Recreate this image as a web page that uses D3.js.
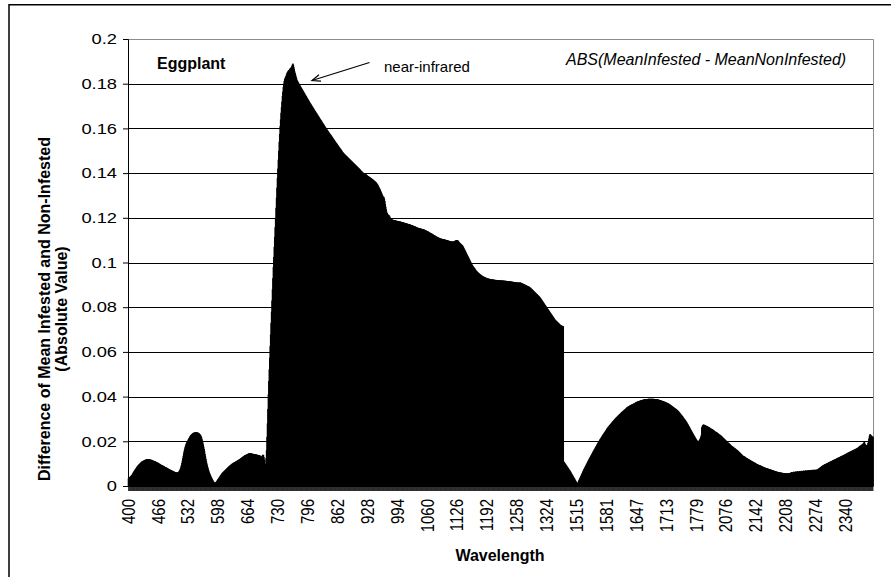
<!DOCTYPE html>
<html>
<head>
<meta charset="utf-8">
<script src="https://cdn.jsdelivr.net/npm/d3@7"></script>
<style>
  html, body { margin: 0; padding: 0; background: #fff; }
  svg { display: block; }
  text { font-family: "Liberation Sans", Arial, Helvetica, sans-serif; fill: #000; }
</style>
</head>
<body>
<svg id="chart" width="891" height="577"></svg>
<script>
// |mean infested - mean non-infested| reflectance, one value per nm.
// 400-1360 nm (visible + near-infrared)
const visNirStart = 400;
const visNirValues = [
.0034,.0036,.0038,.0040,.0042,.0044,.0046,.0048,.0050,.0054,
.0058,.0062,.0065,.0068,.0071,.0074,.0077,.0080,.0083,.0086,
.0089,.0091,.0094,.0096,.0098,.0100,.0102,.0104,.0106,.0108,
.0110,.0111,.0112,.0113,.0114,.0115,.0116,.0117,.0118,.0119,
.0119,.0120,.0120,.0120,.0120,.0119,.0119,.0119,.0118,.0118,
.0117,.0117,.0116,.0115,.0114,.0113,.0112,.0112,.0111,.0110,
.0109,.0108,.0107,.0106,.0105,.0104,.0102,.0101,.0100,.0099,
.0097,.0096,.0095,.0094,.0093,.0092,.0091,.0090,.0089,.0088,
.0086,.0085,.0084,.0083,.0082,.0081,.0080,.0079,.0077,.0076,
.0075,.0074,.0073,.0072,.0071,.0070,.0069,.0068,.0067,.0066,
.0065,.0064,.0063,.0062,.0062,.0061,.0061,.0060,.0060,.0061,
.0062,.0064,.0066,.0070,.0074,.0079,.0086,.0094,.0103,.0113,
.0124,.0135,.0146,.0156,.0165,.0173,.0180,.0186,.0192,.0196,
.0199,.0203,.0207,.0211,.0215,.0219,.0222,.0225,.0228,.0230,
.0232,.0234,.0236,.0237,.0238,.0239,.0240,.0240,.0240,.0240,
.0240,.0240,.0239,.0239,.0238,.0237,.0235,.0233,.0231,.0228,
.0224,.0219,.0212,.0204,.0195,.0186,.0176,.0166,.0155,.0143,
.0132,.0121,.0110,.0101,.0093,.0085,.0077,.0070,.0064,.0058,
.0053,.0048,.0043,.0039,.0035,.0031,.0027,.0023,.0020,.0017,
.0015,.0014,.0015,.0017,.0019,.0022,.0025,.0028,.0031,.0034,
.0037,.0040,.0043,.0046,.0049,.0052,.0055,.0058,.0060,.0062,
.0064,.0066,.0068,.0070,.0072,.0074,.0076,.0078,.0080,.0082,
.0084,.0086,.0088,.0090,.0091,.0093,.0095,.0096,.0098,.0100,
.0101,.0102,.0104,.0105,.0106,.0107,.0108,.0110,.0111,.0112,
.0113,.0114,.0116,.0117,.0118,.0119,.0121,.0122,.0124,.0125,
.0127,.0128,.0130,.0131,.0133,.0134,.0136,.0137,.0138,.0139,
.0140,.0141,.0142,.0143,.0144,.0145,.0146,.0146,.0146,.0146,
.0146,.0146,.0145,.0145,.0144,.0144,.0143,.0143,.0142,.0142,
.0142,.0141,.0141,.0140,.0140,.0139,.0139,.0138,.0138,.0137,
.0137,.0135,.0132,.0130,.0131,.0134,.0138,.0140,.0139,.0130,
.0118,.0098,.0090,.0100,.0125,.0160,.0220,.0280,.0345,.0410,
.0470,.0522,.0574,.0626,.0678,.0730,.0780,.0830,.0880,.0930,
.0980,.1025,.1070,.1115,.1158,.1200,.1245,.1290,.1335,.1378,
.1420,.1460,.1500,.1540,.1575,.1610,.1640,.1670,.1695,.1720,
.1745,.1765,.1785,.1800,.1812,.1820,.1826,.1831,.1835,.1841,
.1847,.1851,.1855,.1858,.1860,.1862,.1865,.1868,.1870,.1872,
.1875,.1880,.1885,.1890,.1885,.1875,.1865,.1855,.1848,.1840,
.1832,.1825,.1817,.1813,.1809,.1806,.1802,.1798,.1795,.1791,
.1787,.1784,.1780,.1777,.1773,.1770,.1766,.1763,.1759,.1756,
.1752,.1749,.1745,.1742,.1738,.1735,.1731,.1728,.1724,.1721,
.1717,.1714,.1711,.1708,.1704,.1701,.1698,.1695,.1691,.1688,
.1685,.1682,.1678,.1675,.1672,.1669,.1666,.1662,.1659,.1656,
.1653,.1650,.1646,.1643,.1640,.1637,.1634,.1630,.1627,.1624,
.1621,.1618,.1615,.1611,.1608,.1605,.1602,.1599,.1596,.1593,
.1590,.1587,.1584,.1581,.1578,.1575,.1573,.1570,.1567,.1564,
.1561,.1558,.1555,.1552,.1549,.1546,.1543,.1540,.1537,.1534,
.1532,.1529,.1526,.1523,.1520,.1517,.1514,.1511,.1509,.1506,
.1503,.1500,.1497,.1494,.1492,.1489,.1487,.1485,.1483,.1481,
.1479,.1477,.1475,.1473,.1471,.1469,.1467,.1465,.1463,.1461,
.1459,.1457,.1455,.1453,.1451,.1449,.1447,.1445,.1443,.1441,
.1439,.1437,.1435,.1433,.1431,.1429,.1427,.1425,.1423,.1421,
.1419,.1417,.1414,.1412,.1410,.1408,.1406,.1404,.1402,.1400,
.1399,.1398,.1397,.1396,.1395,.1394,.1392,.1390,.1388,.1387,
.1385,.1384,.1382,.1381,.1380,.1378,.1377,.1375,.1374,.1372,
.1371,.1369,.1367,.1365,.1363,.1362,.1360,.1358,.1355,.1352,
.1349,.1345,.1341,.1337,.1333,.1329,.1325,.1320,.1315,.1310,
.1305,.1300,.1296,.1294,.1292,.1285,.1275,.1262,.1250,.1238,
.1228,.1222,.1218,.1215,.1213,.1212,.1209,.1205,.1201,.1198,
.1196,.1194,.1193,.1192,.1191,.1190,.1190,.1189,.1189,.1188,
.1188,.1187,.1187,.1186,.1186,.1185,.1185,.1184,.1184,.1183,
.1183,.1183,.1182,.1181,.1181,.1180,.1180,.1179,.1178,.1178,
.1177,.1176,.1176,.1175,.1175,.1174,.1173,.1173,.1172,.1171,
.1171,.1170,.1170,.1169,.1168,.1167,.1167,.1166,.1165,.1164,
.1163,.1162,.1162,.1161,.1160,.1159,.1158,.1157,.1156,.1155,
.1155,.1154,.1154,.1153,.1153,.1152,.1151,.1151,.1150,.1149,
.1149,.1148,.1148,.1147,.1146,.1145,.1144,.1143,.1142,.1141,
.1140,.1139,.1138,.1137,.1135,.1134,.1133,.1132,.1131,.1130,
.1129,.1127,.1126,.1125,.1123,.1122,.1121,.1120,.1119,.1118,
.1116,.1115,.1114,.1113,.1112,.1111,.1110,.1109,.1108,.1107,
.1107,.1106,.1106,.1105,.1105,.1104,.1104,.1103,.1103,.1102,
.1102,.1101,.1100,.1100,.1099,.1099,.1098,.1097,.1097,.1096,
.1096,.1095,.1095,.1094,.1094,.1093,.1093,.1093,.1094,.1095,
.1096,.1097,.1098,.1099,.1100,.1100,.1100,.1099,.1097,.1094,
.1091,.1089,.1087,.1085,.1083,.1081,.1079,.1077,.1075,.1071,
.1067,.1063,.1059,.1055,.1051,.1046,.1042,.1038,.1034,.1030,
.1026,.1022,.1018,.1014,.1009,.1005,.1001,.0997,.0993,.0989,
.0986,.0983,.0980,.0978,.0975,.0972,.0969,.0966,.0963,.0961,
.0959,.0957,.0955,.0953,.0951,.0950,.0948,.0946,.0945,.0943,
.0942,.0940,.0939,.0938,.0937,.0936,.0935,.0934,.0933,.0932,
.0931,.0930,.0929,.0929,.0928,.0928,.0927,.0927,.0926,.0926,
.0925,.0925,.0925,.0924,.0924,.0924,.0923,.0923,.0923,.0922,
.0922,.0922,.0922,.0921,.0921,.0921,.0921,.0920,.0920,.0920,
.0920,.0920,.0920,.0920,.0919,.0919,.0919,.0919,.0919,.0919,
.0918,.0918,.0918,.0918,.0918,.0917,.0917,.0917,.0917,.0916,
.0916,.0916,.0916,.0915,.0915,.0915,.0914,.0914,.0914,.0913,
.0913,.0913,.0912,.0912,.0912,.0911,.0911,.0911,.0910,.0910,
.0910,.0910,.0910,.0910,.0910,.0910,.0910,.0909,.0908,.0907,
.0906,.0905,.0904,.0903,.0902,.0901,.0900,.0899,.0898,.0897,
.0896,.0895,.0894,.0893,.0892,.0891,.0889,.0888,.0886,.0884,
.0882,.0880,.0878,.0876,.0874,.0872,.0870,.0868,.0866,.0864,
.0862,.0860,.0858,.0856,.0854,.0852,.0850,.0848,.0845,.0843,
.0840,.0837,.0834,.0831,.0828,.0825,.0822,.0819,.0816,.0813,
.0810,.0807,.0804,.0801,.0798,.0795,.0792,.0789,.0786,.0783,
.0780,.0777,.0774,.0771,.0768,.0765,.0762,.0759,.0756,.0753,
.0750,.0747,.0744,.0742,.0740,.0738,.0736,.0734,.0732,.0730,
.0728,.0726,.0724,.0722,.0720,.0719,.0718,.0717,.0716,.0715,.0715
];

// 1486-1790 nm (first short-wave infrared window)
const swirOneStart = 1486;
const swirOneValues = [
.0110,.0107,.0104,.0101,.0098,.0095,.0092,.0089,.0086,.0083,
.0080,.0077,.0074,.0071,.0068,.0064,.0061,.0057,.0054,.0050,
.0047,.0043,.0040,.0036,.0033,.0029,.0025,.0022,.0018,.0014,
.0012,.0014,.0018,.0023,.0027,.0032,.0036,.0040,.0045,.0049,
.0054,.0058,.0063,.0067,.0072,.0076,.0080,.0084,.0088,.0092,
.0096,.0100,.0104,.0108,.0112,.0116,.0120,.0124,.0127,.0131,
.0135,.0139,.0142,.0146,.0150,.0154,.0157,.0161,.0165,.0168,
.0172,.0176,.0179,.0183,.0187,.0190,.0194,.0198,.0201,.0204,
.0208,.0211,.0214,.0217,.0220,.0224,.0227,.0230,.0233,.0236,
.0239,.0242,.0245,.0248,.0251,.0255,.0258,.0261,.0263,.0266,
.0268,.0271,.0273,.0276,.0278,.0280,.0283,.0285,.0288,.0290,
.0292,.0295,.0297,.0299,.0302,.0304,.0306,.0308,.0310,.0312,
.0314,.0316,.0318,.0320,.0322,.0324,.0326,.0328,.0330,.0332,
.0334,.0335,.0337,.0339,.0341,.0342,.0344,.0346,.0348,.0350,
.0352,.0353,.0355,.0356,.0357,.0358,.0360,.0361,.0362,.0363,
.0364,.0365,.0366,.0367,.0368,.0369,.0370,.0371,.0372,.0374,
.0375,.0376,.0377,.0378,.0378,.0379,.0380,.0381,.0381,.0382,
.0383,.0383,.0384,.0385,.0385,.0386,.0386,.0387,.0387,.0388,
.0388,.0388,.0389,.0389,.0389,.0389,.0390,.0390,.0390,.0390,
.0390,.0390,.0390,.0390,.0390,.0390,.0390,.0390,.0390,.0390,
.0389,.0389,.0389,.0389,.0389,.0388,.0388,.0388,.0387,.0387,
.0386,.0385,.0385,.0384,.0383,.0383,.0382,.0381,.0380,.0380,
.0379,.0378,.0377,.0377,.0376,.0375,.0374,.0373,.0372,.0371,
.0370,.0369,.0368,.0366,.0365,.0364,.0362,.0361,.0359,.0358,
.0356,.0355,.0353,.0352,.0350,.0349,.0347,.0346,.0344,.0343,
.0341,.0339,.0337,.0335,.0333,.0330,.0328,.0325,.0323,.0320,
.0318,.0315,.0313,.0310,.0307,.0304,.0301,.0299,.0296,.0293,
.0290,.0287,.0284,.0280,.0277,.0273,.0269,.0266,.0262,.0258,
.0254,.0251,.0247,.0243,.0240,.0236,.0232,.0229,.0225,.0222,
.0218,.0215,.0211,.0208,.0205,.0202,.0201,.0200,.0201,.0203,
.0206,.0210,.0215,.0221,.0228
];

// 2022-2400 nm (second short-wave infrared window)
const swirTwoStart = 2022;
const swirTwoValues = [
.0262,.0268,.0272,.0274,.0275,.0274,.0273,.0272,.0271,.0270,
.0269,.0268,.0267,.0266,.0265,.0264,.0263,.0261,.0260,.0258,
.0257,.0256,.0255,.0254,.0253,.0251,.0250,.0248,.0246,.0244,
.0243,.0242,.0241,.0240,.0238,.0237,.0235,.0233,.0231,.0230,
.0229,.0228,.0226,.0224,.0222,.0220,.0218,.0216,.0214,.0212,
.0210,.0208,.0206,.0204,.0202,.0200,.0198,.0196,.0194,.0193,
.0191,.0189,.0187,.0185,.0183,.0181,.0179,.0178,.0176,.0175,
.0173,.0172,.0170,.0169,.0167,.0165,.0164,.0162,.0161,.0159,
.0157,.0155,.0153,.0151,.0149,.0147,.0145,.0143,.0141,.0139,
.0137,.0135,.0134,.0133,.0132,.0131,.0129,.0128,.0126,.0125,
.0124,.0123,.0121,.0120,.0119,.0118,.0116,.0115,.0114,.0113,
.0112,.0111,.0110,.0108,.0107,.0106,.0105,.0104,.0103,.0101,
.0100,.0099,.0098,.0097,.0096,.0095,.0094,.0093,.0093,.0092,
.0091,.0090,.0089,.0088,.0087,.0086,.0085,.0084,.0083,.0082,
.0082,.0081,.0080,.0080,.0079,.0078,.0078,.0077,.0076,.0076,
.0075,.0074,.0073,.0073,.0072,.0071,.0071,.0070,.0069,.0068,
.0068,.0067,.0066,.0066,.0065,.0064,.0064,.0063,.0063,.0062,
.0062,.0061,.0061,.0060,.0060,.0060,.0059,.0059,.0059,.0058,
.0058,.0058,.0057,.0057,.0057,.0057,.0056,.0056,.0056,.0057,
.0056,.0055,.0057,.0058,.0057,.0056,.0058,.0061,.0062,.0060,
.0059,.0061,.0063,.0064,.0062,.0061,.0063,.0065,.0064,.0063,
.0064,.0066,.0065,.0063,.0064,.0066,.0067,.0065,.0064,.0066,
.0068,.0067,.0065,.0066,.0068,.0069,.0067,.0066,.0068,.0070,
.0069,.0067,.0068,.0070,.0069,.0068,.0070,.0071,.0069,.0068,
.0070,.0072,.0071,.0069,.0070,.0072,.0073,.0071,.0070,.0072,
.0073,.0072,.0071,.0073,.0074,.0072,.0074,.0076,.0078,.0079,
.0080,.0082,.0084,.0085,.0087,.0089,.0090,.0091,.0093,.0094,
.0095,.0096,.0098,.0097,.0099,.0100,.0101,.0103,.0102,.0104,
.0106,.0105,.0107,.0109,.0108,.0110,.0112,.0111,.0113,.0115,
.0114,.0116,.0118,.0117,.0119,.0121,.0120,.0122,.0124,.0123,
.0125,.0127,.0126,.0128,.0130,.0128,.0131,.0133,.0132,.0134,
.0136,.0134,.0137,.0139,.0138,.0140,.0142,.0140,.0143,.0145,
.0144,.0147,.0149,.0147,.0150,.0152,.0150,.0153,.0155,.0153,
.0156,.0158,.0156,.0159,.0161,.0159,.0162,.0164,.0162,.0165,
.0167,.0165,.0168,.0170,.0168,.0172,.0175,.0172,.0177,.0180,
.0176,.0181,.0184,.0180,.0186,.0189,.0184,.0191,.0195,.0198,
.0190,.0186,.0182,.0179,.0183,.0178,.0185,.0192,.0200,.0212,
.0222,.0230,.0232,.0228,.0226,.0224,.0222,.0221,.0220
];

// Category labels shown under the axis (every 66th band)
const tickLabels = ["400","466","532","598","664","730","796","862","928","994",
  "1060","1126","1192","1258","1324","1515","1581","1647","1713","1779",
  "2076","2142","2208","2274","2340"];
const yTickValues = [0, 0.02, 0.04, 0.06, 0.08, 0.1, 0.12, 0.14, 0.16, 0.18, 0.2];

// Flatten the three spectral windows into one category list
const segments = [
  [visNirStart, visNirValues],
  [swirOneStart, swirOneValues],
  [swirTwoStart, swirTwoValues]
];
const data = segments.flatMap(([start, vals]) =>
  vals.map((v, i) => ({ wl: String(start + i), v })));

const W = 891, H = 577;
const plot = { left: 128, right: 873, top: 39, bottom: 486 };

const svg = d3.select("#chart");

// chart frame
svg.append("rect")
  .attr("x", 9).attr("y", 4.75)
  .attr("width", W + 40).attr("height", H + 40)
  .attr("fill", "none").attr("stroke", "#000").attr("stroke-width", 1.5);

const x = d3.scaleBand()
  .domain(data.map(d => d.wl))
  .range([plot.left, plot.right])
  .padding(0);

const y = d3.scaleLinear()
  .domain([0, 0.2])
  .range([plot.bottom, plot.top]);

// horizontal gridlines
svg.append("g")
  .selectAll("line")
  .data(yTickValues.filter(t => t > 0 && t < 0.2))
  .join("line")
  .attr("x1", plot.left).attr("x2", plot.right)
  .attr("y1", d => Math.round(y(d)) + 0.5)
  .attr("y2", d => Math.round(y(d)) + 0.5)
  .attr("stroke", "#000").attr("stroke-width", 1);

// plot-area border (top and right)
svg.append("path")
  .attr("d", `M${plot.left},${plot.top + 0.5}H${plot.right + 0.5}V${plot.bottom}`)
  .attr("fill", "none").attr("stroke", "#8c8c8c").attr("stroke-width", 1);

// columns: each band is slightly widened so neighbours overlap into a solid mass
const bw = x.bandwidth();
svg.append("g")
  .selectAll("rect")
  .data(data)
  .join("rect")
  .attr("x", d => x(d.wl) - 0.3)
  .attr("width", bw + 1.1)
  .attr("y", d => y(d.v))
  .attr("height", d => y(0) - y(d.v))
  .attr("fill", "#000");

// category axis: a tick for every band, labels every 66th band
const xAxis = svg.append("g")
  .attr("transform", `translate(0,${plot.bottom})`)
  .call(d3.axisBottom(x).tickSize(5).tickFormat("").tickSizeOuter(0));
xAxis.select(".domain").attr("stroke", "#000");
xAxis.selectAll(".tick line").attr("stroke", "#000").attr("stroke-width", 0.6);

const TICK_SX = 1.22;
svg.append("g")
  .selectAll("text")
  .data(tickLabels)
  .join("text")
  .attr("transform", d => `translate(${x(d) + bw / 2},${plot.bottom + 13}) scale(${TICK_SX},1) rotate(-90)`)
  .attr("text-anchor", "end")
  .attr("dy", "0.35em")
  .attr("font-size", 15)
  .text(d => d);

// value axis
const yAxis = svg.append("g")
  .attr("transform", `translate(${plot.left},0)`)
  .call(d3.axisLeft(y).tickValues(yTickValues).tickSize(5).tickFormat(""));
yAxis.select(".domain").attr("stroke", "#000");
yAxis.selectAll(".tick line").attr("stroke", "#000");

svg.append("g")
  .selectAll("text")
  .data(yTickValues)
  .join("text")
  .attr("transform", d => `translate(${plot.left - 11},${y(d)}) scale(${TICK_SX},1)`)
  .attr("text-anchor", "end")
  .attr("dy", "0.35em")
  .attr("font-size", 15)
  .text(d => d3.format("~g")(d));

// axis titles
const yTitle = svg.append("g").attr("font-weight", "bold").attr("font-size", 16);
yTitle.append("text")
  .attr("transform", "translate(50,309) rotate(-90)")
  .attr("text-anchor", "middle")
  .text("Difference of Mean Infested and Non-Infested");
yTitle.append("text")
  .attr("transform", "translate(67,309) rotate(-90)")
  .attr("text-anchor", "middle")
  .text("(Absolute Value)");

svg.append("text")
  .attr("x", 500).attr("y", 561)
  .attr("text-anchor", "middle")
  .attr("font-weight", "bold").attr("font-size", 16)
  .text("Wavelength");

// annotations
svg.append("text")
  .attr("x", 157).attr("y", 69)
  .attr("font-weight", "bold").attr("font-size", 16)
  .text("Eggplant");

svg.append("text")
  .attr("x", 566).attr("y", 65)
  .attr("font-style", "italic").attr("font-size", 16)
  .text("ABS(MeanInfested - MeanNonInfested)");

svg.append("text")
  .attr("x", 384).attr("y", 72)
  .attr("font-size", 15)
  .text("near-infrared");

// arrow pointing at the near-infrared peak
const tip = [312, 80.5], tail = [369.5, 62.5];
svg.append("line")
  .attr("x1", tail[0]).attr("y1", tail[1]).attr("x2", tip[0]).attr("y2", tip[1])
  .attr("stroke", "#000").attr("stroke-width", 1.2);
const ang = Math.atan2(tail[1] - tip[1], tail[0] - tip[0]);
const headLen = 9, headSpread = 0.38;
svg.append("path")
  .attr("d", `M${tip[0] + headLen * Math.cos(ang - headSpread)},${tip[1] + headLen * Math.sin(ang - headSpread)}L${tip[0]},${tip[1]}L${tip[0] + headLen * Math.cos(ang + headSpread)},${tip[1] + headLen * Math.sin(ang + headSpread)}`)
  .attr("fill", "none").attr("stroke", "#000").attr("stroke-width", 1.2);
</script>
</body>
</html>
